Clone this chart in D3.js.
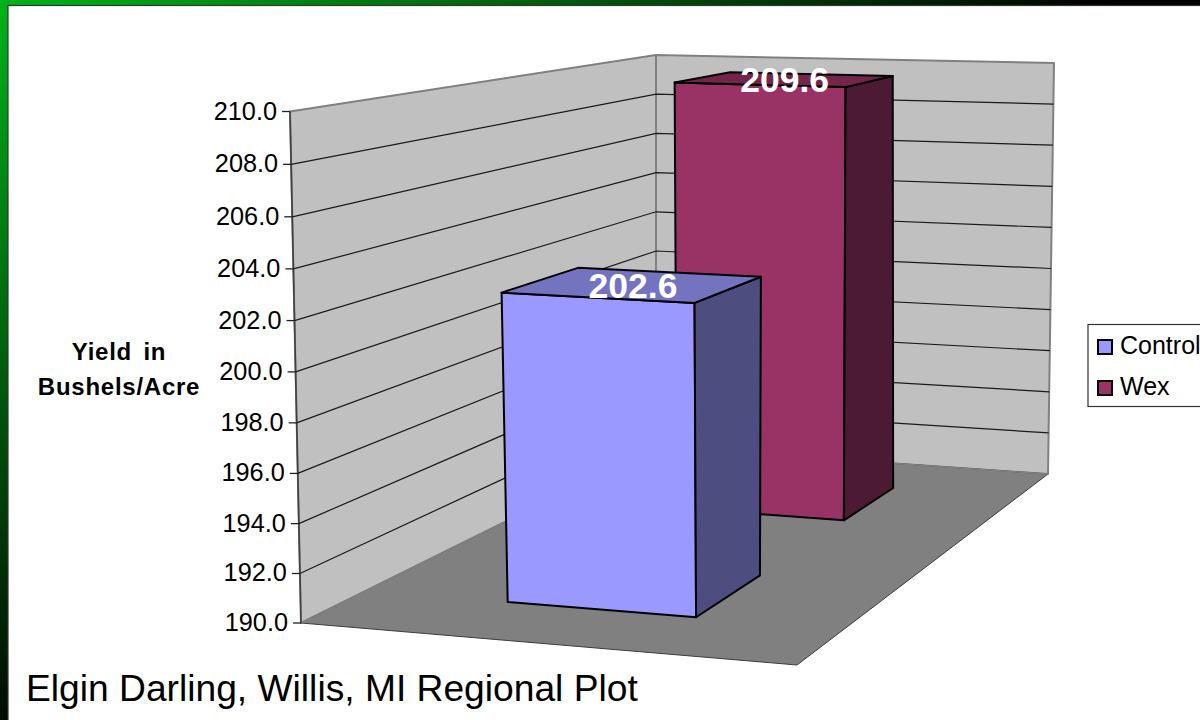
<!DOCTYPE html>
<html><head><meta charset="utf-8">
<style>html,body{margin:0;padding:0;background:#fff;overflow:hidden}svg{display:block}text{font-family:"Liberation Sans",Arial,sans-serif}</style>
<script src="https://cdnjs.cloudflare.com/ajax/libs/d3/7.8.5/d3.min.js"></script>
</head><body><svg id="c" width="1200" height="720"></svg>
<script>
const seriesNames=["Control","Wex"];
const seriesValues=[202.6,209.6];
const seriesColors=["#9999ff","#993366"];
const sideColors=["#4d4d80","#4d1a33"];
const topColors=["#7373bf","#732649"];
const tickValues=[190,192,194,196,198,200,202,204,206,208,210];
const axisTitle=["Yield in","Bushels/Acre"];
const plotTitle="Elgin Darling, Willis, MI Regional Plot";

const svg=d3.select("#c");
const defs=svg.append("defs");
const g=defs.append("radialGradient").attr("id","bg").attr("gradientUnits","userSpaceOnUse")
 .attr("cx",0).attr("cy",0).attr("r",1).attr("gradientTransform","scale(1120,770)");
g.append("stop").attr("offset",0).attr("stop-color","#00b31a");
g.append("stop").attr("offset",0.5).attr("stop-color","#005a0c");
g.append("stop").attr("offset",1).attr("stop-color","#000000");
svg.append("rect").attr("width",1200).attr("height",720).attr("fill","url(#bg)");
svg.append("rect").attr("x",8).attr("y",5.5).attr("width",1300).attr("height",800).attr("fill","#fff").attr("stroke","#333").attr("stroke-width",1.2);

function homography(p00,p10,p11,p01){
 const sx=p00[0]-p10[0]+p11[0]-p01[0], sy=p00[1]-p10[1]+p11[1]-p01[1];
 const dx1=p10[0]-p11[0], dy1=p10[1]-p11[1], dx2=p01[0]-p11[0], dy2=p01[1]-p11[1];
 const den=dx1*dy2-dx2*dy1;
 const G=(sx*dy2-dx2*sy)/den, H=(dx1*sy-sx*dy1)/den;
 const a=p10[0]-p00[0]+G*p10[0], b=p01[0]-p00[0]+H*p01[0], c=p00[0];
 const d=p10[1]-p00[1]+G*p10[1], e=p01[1]-p00[1]+H*p01[1], f=p00[1];
 return (u,w)=>{const q=G*u+H*w+1;return [(a*u+b*w+c)/q,(d*u+e*w+f)/q];};
}
const floorH=homography([301,623],[797,665],[1048,474],[656,447]);
const ceilH=homography([290,111.5],[810,133],[1054,63],[656,55]);
const vFrac=d3.scaleLinear().domain([190,210]).range([0,1]);
function proj(u,w,v){
 const a=floorH(u,w),b=ceilH(u,w),s=vFrac(v),t=s/(1+0.037*(1-w)*(1-s));
 return [a[0]+(b[0]-a[0])*t,a[1]+(b[1]-a[1])*t];
}
const uScale=d3.scaleBand().domain(["Plot"]).range([0.303,0.698]);
const dScale=d3.scaleBand().domain(seriesNames).range([0,1]).paddingInner(0.6).paddingOuter(0.3);
const line=d3.line();
const poly=(pts,fill,stroke,sw)=>svg.append("path").attr("d",line(pts)+"Z").attr("fill",fill).attr("stroke",stroke||"none").attr("stroke-width",sw||0).attr("stroke-linejoin","round");

poly([proj(0,0,190),proj(0,0,210),proj(0,1,210),proj(0,1,190)],"#c0c0c0","#808080",2);
poly([proj(0,1,190),proj(0,1,210),proj(1,1,210),proj(1,1,190)],"#c0c0c0","#808080",2);
poly([proj(0,0,190),proj(1,0,190),proj(1,1,190),proj(0,1,190)],"#808080","#3c3c3c",1);
svg.append("path").attr("d",line([proj(0,0,190),proj(0,1,190),proj(1,1,190)])).attr("fill","none").attr("stroke","#808080").attr("stroke-width",1.5);
svg.append("path").attr("d",line([proj(0,0,190),proj(0,0,210)])).attr("fill","none").attr("stroke","#404040").attr("stroke-width",1.6);

tickValues.forEach(v=>{
 if(v>190&&v<210) svg.append("path").attr("d",line([proj(0,0,v),proj(0,1,v),proj(1,1,v)])).attr("fill","none").attr("stroke","#1a1a1a").attr("stroke-width",1.2);
 const p=proj(0,0,v);
 svg.append("line").attr("x1",p[0]-8).attr("x2",p[0]).attr("y1",p[1]).attr("y2",p[1]).attr("stroke","#222").attr("stroke-width",1.3);
 svg.append("text").attr("x",p[0]-13).attr("y",p[1]+8).attr("text-anchor","end").attr("font-size",25.3).attr("fill","#000").text(d3.format(".1f")(v));
});

d3.range(seriesNames.length).reverse().forEach(i=>{
 const n=seriesNames[i],u0=uScale("Plot"),u1=u0+uScale.bandwidth(),w0=dScale(n),w1=w0+dScale.bandwidth(),v=seriesValues[i];
 poly([proj(u0,w0,190),proj(u1,w0,190),proj(u1,w0,v),proj(u0,w0,v)],seriesColors[i],"#000",2);
 poly([proj(u1,w0,190),proj(u1,w1,190),proj(u1,w1,v),proj(u1,w0,v)],sideColors[i],"#000",2);
 poly([proj(u0,w0,v),proj(u1,w0,v),proj(u1,w1,v),proj(u0,w1,v)],topColors[i],"#000",2);
});
seriesNames.forEach((n,i)=>{
 const u=uScale("Plot")+uScale.bandwidth()/2,w=dScale(n)+dScale.bandwidth()/2,p=proj(u,w,seriesValues[i]);
 svg.append("text").attr("x",p[0]).attr("y",p[1]+13).attr("text-anchor","middle").attr("font-size",35.5).attr("font-weight","bold").attr("fill","#fff").text(d3.format(".1f")(seriesValues[i]));
});

axisTitle.forEach((t,i)=>svg.append("text").attr("x",119).attr("y",360+i*35).attr("text-anchor","middle").attr("font-size",24).attr("font-weight","bold").attr("letter-spacing",0.75).attr("word-spacing",4).attr("fill","#000").text(t));

svg.append("rect").attr("x",1088).attr("y",324.5).attr("width",130).attr("height",82).attr("fill","#fff").attr("stroke","#333").attr("stroke-width",1.2);
seriesNames.forEach((n,i)=>{
 const y=340+i*41;
 svg.append("rect").attr("x",1098).attr("y",y).attr("width",14).attr("height",14).attr("fill",seriesColors[i]).attr("stroke","#000").attr("stroke-width",2);
 svg.append("text").attr("x",1120).attr("y",y+14).attr("font-size",25).attr("fill","#000").text(n);
});
svg.append("text").attr("x",26).attr("y",701).attr("font-size",37.2).attr("fill","#000").text(plotTitle);
</script></body></html>
